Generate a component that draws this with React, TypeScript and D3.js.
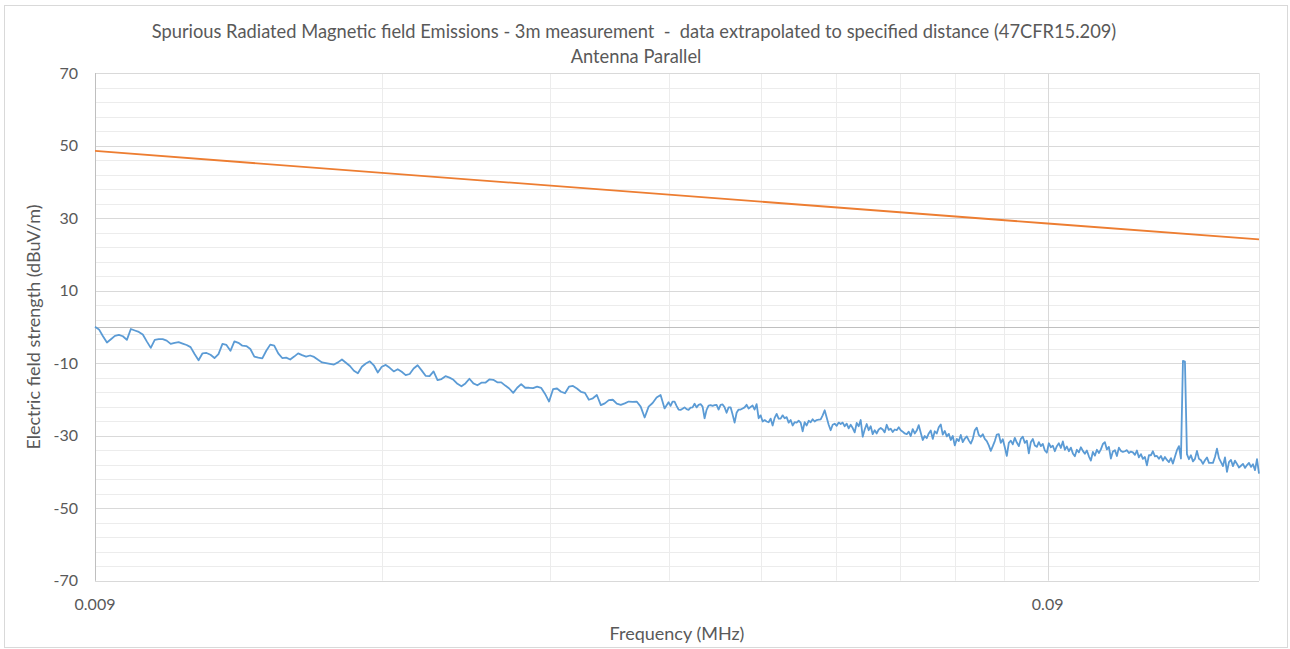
import React from 'react';
import * as d3 from 'd3';

const TITLE_LINE_1 =
  'Spurious Radiated Magnetic field Emissions - 3m measurement  -  data extrapolated to specified distance (47CFR15.209)';
const TITLE_LINE_2 = 'Antenna Parallel';
const X_TITLE = 'Frequency (MHz)';
const Y_TITLE = 'Electric field strength (dBuV/m)';

const X_DOMAIN_MHZ = [0.009, 0.15];
const Y_DOMAIN = [-70, 70];
const Y_TICK_LABELS = [-70, -50, -30, -10, 10, 30, 50, 70];
const X_TICK_LABELS = [0.009, 0.09];
const X_MINOR_GRID = [0.018, 0.027, 0.036, 0.045, 0.054, 0.063, 0.072, 0.081];
const X_MAJOR_GRID = [0.009, 0.09];

// Limit line (orange)
const LIMIT_FREQ_MHZ = [0.009, 0.09, 0.15];
const LIMIT_DBUV = [48.5, 28.5, 24.1];

// Measured sweep (blue), log-spaced sweep points.
// Sweep A: 0.009 -> 0.036 MHz (end point excluded)
const SWEEP_A_RANGE_MHZ = [0.009, 0.036];
const SWEEP_A_DBUV = [
  0, -0.7, -2.6, -4.3, -3.4, -2.5, -2.2, -2.6, -3.6, -0.6,
  -1.0, -1.4, -2.1, -4.0, -5.8, -3.6, -3.4, -3.4, -3.8, -4.7,
  -4.4, -4.2, -4.6, -5.0, -5.6, -7.5, -9.2, -7.3, -7.2, -7.7,
  -8.6, -7.5, -4.7, -5.0, -6.6, -4.0, -4.4, -5.2, -5.3, -6.1,
  -8.2, -8.5, -8.7, -6.6, -4.9, -5.2, -7.3, -8.6, -8.5, -9.0,
  -8.2, -7.3, -7.8, -8.2, -7.9, -8.3, -9.1, -9.8, -10.0, -10.2,
  -10.4, -9.8, -9.0, -9.9, -10.8, -12.1, -12.8, -11.0, -10.1, -9.5,
  -10.6, -12.6, -11.0, -10.5, -11.3, -12.3, -11.7, -12.4, -13.3, -13.0,
  -11.5, -10.6, -12.0, -13.5, -13.6, -12.3, -14.7, -14.4, -13.6, -14.0,
  -14.6, -15.7, -16.4, -15.6, -14.3, -15.6, -16.1, -15.4, -15.4, -14.5,
  -14.6, -15.3, -15.3, -16.2, -17.0, -18.2, -16.8, -15.8, -16.8, -16.8,
  -16.9, -16.5, -16.8, -18.5, -20.6, -17.2, -17.0, -17.9, -18.3, -16.5,
  -16.3, -17.0, -17.9, -18.2, -20.1, -19.7, -18.8, -21.6, -21.1, -20.2,
  -20.1, -21.2, -21.5, -21.1, -20.6, -20.7, -20.6, -22.0, -25.0, -22.0,
  -21.0, -19.5, -18.8, -22.5,
];
// Sweep B: 0.036 -> 0.15 MHz (both ends included)
const SWEEP_B_RANGE_MHZ = [0.036, 0.15];
const SWEEP_B_DBUV = [
  -20.8,
  -21.8, -20.6, -20.6, -21.8, -22.8, -22.9, -22.6, -22.2, -22.7, -22.9,
  -22.3, -22.2, -21.2, -22.2, -21.5,
  -21.3, -22.0, -25.2, -22.9, -21.7, -21.6, -21.8, -21.6, -21.5, -22.8,
  -21.5, -21.4, -22.2, -23.7, -22.2, -22.2, -24.2, -26.4, -23.7, -22.8,
  -22.8, -22.5, -22.2, -21.5, -22.5, -22.1, -21.7, -22.8, -21.3, -25.2,
  -24.4, -26.1, -25.7, -26.1, -26.3, -25.3, -27.2, -25.1, -24.0, -25.3,
  -25.3, -24.4, -25.2, -24.9, -26.4, -25.7, -27.2, -26.3, -26.4, -25.9,
  -26.4, -28.8, -26.3, -27.2, -25.9, -26.3, -25.5, -26.1, -25.7, -25.6,
  -25.5, -24.4, -23.0, -25.0, -27.0, -28.5, -27.0, -26.7, -27.3, -26.4,
  -26.8, -26.4, -27.4, -26.7, -28.0, -27.0, -27.9, -29.1, -26.5, -27.4,
  -25.7, -30.3, -28.3, -26.8, -28.5, -27.4, -29.6, -28.5, -29.4, -28.3,
  -27.9, -28.3, -29.1, -27.0, -28.4, -28.1, -29.0, -28.3, -28.5, -27.7,
  -28.5, -28.9, -29.4, -29.6, -28.9, -30.1, -28.2, -29.4, -28.6, -27.1,
  -29.2, -31.2, -30.1, -30.7, -29.4, -28.6, -30.9, -28.8, -29.4, -27.7,
  -26.9, -29.7, -28.7, -30.2, -29.5, -31.2, -30.1, -32.7, -30.9, -31.5,
  -29.8, -31.8, -30.8, -30.2, -31.3, -32.2, -30.9, -28.5, -27.8, -29.8,
  -30.3, -29.6, -30.9, -31.5, -32.7, -34.2, -32.9, -31.5, -29.7, -29.6,
  -32.0, -31.0, -33.2, -35.6, -32.0, -31.4, -32.4, -30.6, -31.9, -32.9,
  -30.9, -30.3, -32.0, -31.4, -34.9, -31.8, -30.9, -32.7, -33.1, -31.8,
  -32.9, -32.3, -34.1, -34.7, -32.1, -33.2, -32.8, -34.3, -32.9, -32.1,
  -33.4, -31.6, -33.9, -33.0, -34.3, -33.3, -34.9, -35.7, -33.9, -34.6,
  -33.2, -34.2, -35.0, -34.1, -35.7, -36.9, -34.5, -35.5, -33.9, -34.8,
  -33.8, -32.3, -31.8, -33.8, -33.1, -36.3, -34.4, -34.0, -35.6, -33.3,
  -34.2, -34.5, -34.3, -34.0, -34.8, -34.4, -34.6, -35.3, -34.1, -36.0,
  -35.1, -36.4, -35.9, -38.2, -35.4, -35.4, -34.3, -35.7, -35.6, -36.4,
  -35.6, -36.9, -35.9, -36.7, -37.3, -36.2, -37.7, -35.8, -34.0, -32.9,
  -36.3, -9.4, -9.6, -35.1, -36.5, -35.4, -37.1, -36.4, -34.2, -36.4,
  -36.8, -37.8, -36.8, -36.0, -37.5, -37.5, -37.5, -35.9, -33.6, -36.2,
  -37.3, -38.4, -36.0, -40.0, -37.3, -36.7, -38.4, -36.9, -37.8, -38.8,
  -38.3, -37.8, -38.9, -38.1, -37.5, -38.6, -37.9, -39.5, -36.5, -40.5,
];

const W = 1290;
const H = 649;
const PLOT = { left: 95, right: 1259, top: 73, bottom: 580.7 };
const FONT = "Lato, 'Open Sans', 'Noto Sans', sans-serif";
const TEXT_COLOR = '#595959';

type Pt = { f: number; v: number };

function sweepPoints(range: number[], values: number[], includeEnd: boolean): Pt[] {
  const n = includeEnd ? values.length - 1 : values.length;
  const ratio = range[1] / range[0];
  return values.map((v, i) => ({ f: range[0] * Math.pow(ratio, i / n), v }));
}

export default function App() {
  const x = d3.scaleLog().domain(X_DOMAIN_MHZ).range([PLOT.left, PLOT.right]);
  const y = d3.scaleLinear().domain(Y_DOMAIN).range([PLOT.bottom, PLOT.top]);

  const crisp = (p: number) => Math.round(p) + 0.5;

  const yMajor = d3.range(Y_DOMAIN[0], Y_DOMAIN[1] + 1, 20);
  const yMinor = d3.range(Y_DOMAIN[0], Y_DOMAIN[1] + 1, 4).filter((v) => !yMajor.includes(v));

  const measured: Pt[] = [
    ...sweepPoints(SWEEP_A_RANGE_MHZ, SWEEP_A_DBUV, false),
    ...sweepPoints(SWEEP_B_RANGE_MHZ, SWEEP_B_DBUV, true),
  ];
  const limit: Pt[] = LIMIT_FREQ_MHZ.map((f, i) => ({ f, v: LIMIT_DBUV[i] }));

  const line = d3
    .line<Pt>()
    .x((d) => x(d.f))
    .y((d) => y(d.v));

  const fmt = (v: number) => String(v);

  return (
    <div style={{ position: 'absolute', left: 0, top: 0 }}>
      <svg width={W} height={H} style={{ display: 'block', background: '#fff' }}>
        <rect x={4.5} y={5.5} width={1283} height={642} fill="#fff" stroke="#d9d9d9" />

        {/* minor horizontal gridlines */}
        {yMinor.map((v) => (
          <line key={'hm' + v} x1={PLOT.left} x2={PLOT.right} y1={crisp(y(v))} y2={crisp(y(v))} stroke="#ececec" />
        ))}
        {/* minor vertical gridlines */}
        {X_MINOR_GRID.map((f) => (
          <line key={'vm' + f} y1={PLOT.top} y2={PLOT.bottom} x1={crisp(x(f))} x2={crisp(x(f))} stroke="#ececec" />
        ))}
        <line y1={PLOT.top} y2={PLOT.bottom} x1={crisp(PLOT.right)} x2={crisp(PLOT.right)} stroke="#e6e6e6" />
        {/* major horizontal gridlines */}
        {yMajor.map((v) => (
          <line key={'hM' + v} x1={PLOT.left} x2={PLOT.right} y1={crisp(y(v))} y2={crisp(y(v))} stroke="#d9d9d9" />
        ))}
        {/* major vertical gridlines */}
        {X_MAJOR_GRID.map((f) => (
          <line key={'vM' + f} y1={PLOT.top} y2={PLOT.bottom} x1={crisp(x(f))} x2={crisp(x(f))} stroke="#d9d9d9" />
        ))}
        {/* axis lines */}
        <line x1={PLOT.left} x2={PLOT.right} y1={crisp(y(0))} y2={crisp(y(0))} stroke="#bfbfbf" />
        <line y1={PLOT.top} y2={PLOT.bottom} x1={crisp(x(X_DOMAIN_MHZ[0]))} x2={crisp(x(X_DOMAIN_MHZ[0]))} stroke="#bfbfbf" />

        {/* series */}
        <path d={line(limit) || ''} fill="none" stroke="#ED7D31" strokeWidth={1.8} />
        <path d={line(measured) || ''} fill="none" stroke="#5B9BD5" strokeWidth={1.8} strokeLinejoin="round" />

        {/* y tick labels */}
        {Y_TICK_LABELS.map((v) => (
          <text key={'yt' + v} x={78} y={y(v) + 5.5} textAnchor="end" fontFamily={FONT} fontSize={16} fill={TEXT_COLOR}>
            {fmt(v)}
          </text>
        ))}
        {/* x tick labels */}
        {X_TICK_LABELS.map((f) => (
          <text key={'xt' + f} x={x(f)} y={610} textAnchor="middle" fontFamily={FONT} fontSize={16} fill={TEXT_COLOR}>
            {fmt(f)}
          </text>
        ))}

        {/* titles */}
        <text x={634} y={38} textAnchor="middle" fontFamily={FONT} fontSize={18.3} fill={TEXT_COLOR} style={{ whiteSpace: 'pre' }}>
          {TITLE_LINE_1}
        </text>
        <text x={636} y={63} textAnchor="middle" fontFamily={FONT} fontSize={18.3} fill={TEXT_COLOR}>
          {TITLE_LINE_2}
        </text>
        <text x={677} y={640} textAnchor="middle" fontFamily={FONT} fontSize={18} fill={TEXT_COLOR}>
          {X_TITLE}
        </text>
        <text transform="translate(40,327) rotate(-90)" textAnchor="middle" fontFamily={FONT} fontSize={18} fill={TEXT_COLOR}>
          {Y_TITLE}
        </text>
      </svg>
    </div>
  );
}
